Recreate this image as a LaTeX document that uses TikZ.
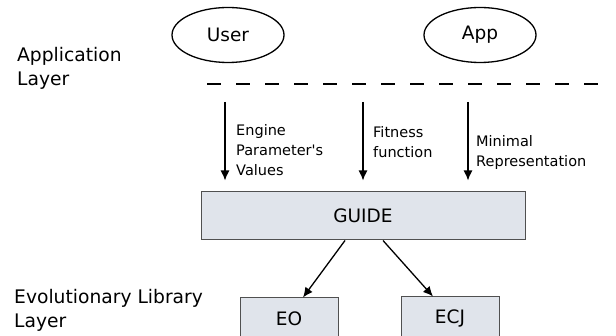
\documentclass[tikz,border=0pt]{standalone}
\usepackage{fontspec}
\setmainfont{DejaVu Sans}
\usetikzlibrary{shapes.geometric,arrows.meta}
\definecolor{boxfill}{RGB}{224,228,235}
\definecolor{boxline}{RGB}{80,80,80}
\begin{document}
\begin{tikzpicture}[x=1pt,y=-1pt,
  actor/.style={ellipse,draw,line width=1.3pt,minimum width=112pt,minimum height=55pt,font=\fontsize{18.5}{24}\selectfont},
  layer/.style={anchor=north west,align=left,inner sep=0pt,font=\fontsize{18.7}{24}\selectfont},
  block/.style={draw=boxline,fill=boxfill,line width=1pt,font=\fontsize{18.5}{24}\selectfont},
  note/.style={anchor=north west,align=left,inner sep=0pt,font=\fontsize{14.5}{20}\selectfont},
  flow/.style={-{Latex[length=10pt,width=9pt]},line width=1.3pt}]
\useasboundingbox (0,0) rectangle (616,336);
\clip (0,0) rectangle (616,336);
\node[layer] (applayer) at (17,47) {Application\\Layer};
\node[actor] (user) at (228,35) {User};
\node[actor] (app) at (480,35) {App};
\coordinate (dashL) at (207,84);
\coordinate (dashR) at (602,84);
\draw[line width=1.3pt,dash pattern=on 14pt off 15pt] (dashL) -- (dashR);
\node[block,minimum width=324pt,minimum height=48pt] (guide) at (363,216) {GUIDE};
\coordinate (eng) at (225,102);
\coordinate (fit) at (363,102);
\coordinate (mini) at (468,102);
\foreach \c in {eng,fit,mini} {
\draw[flow,shorten >=11pt] (\c) -- (\c |- guide.north);
}
\node[note] (englbl) at (236,124) {Engine\\Parameter\textquotesingle s\\Values};
\node[note] (fitlbl) at (373,126) {Fitness\\function};
\node[note] (minilbl) at (476,135) {Minimal\\Representation};
\node[layer] (evolayer) at (14,289) {Evolutionary Library\\Layer};
\node[block,minimum width=98pt,minimum height=42pt] (eo) at (289,319) {EO};
\node[block,minimum width=98pt,minimum height=42pt] (ecj) at (450,318) {ECJ};
\draw[flow] ([xshift=-18pt]guide.south) -- ([xshift=14pt]eo.north);
\draw[flow] ([xshift=20pt]guide.south) -- ([xshift=-17pt]ecj.north);
\end{tikzpicture}
\end{document}
